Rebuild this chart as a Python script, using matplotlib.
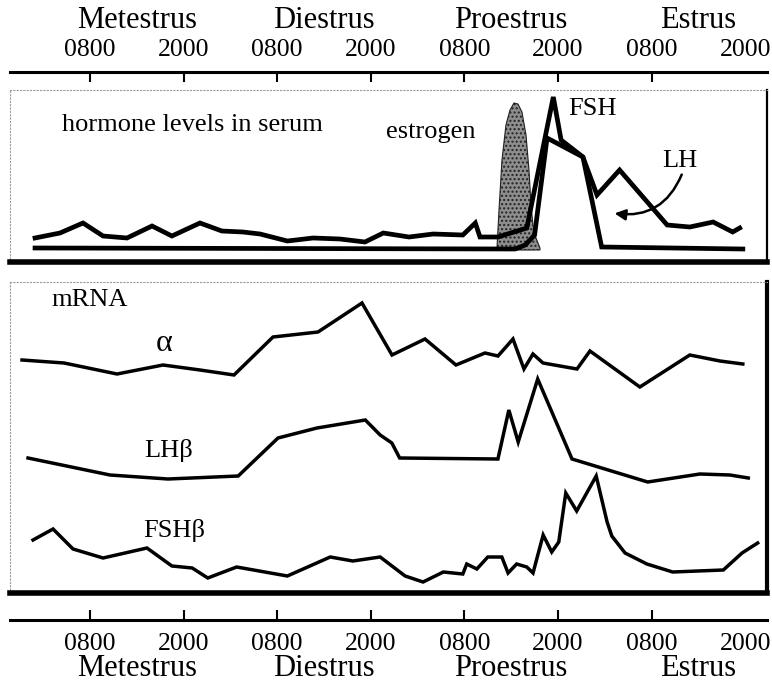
import matplotlib
matplotlib.use('Agg')
import matplotlib.pyplot as plt
from matplotlib.transforms import blended_transform_factory

plt.rcParams['font.family'] = ['Liberation Serif', 'DejaVu Serif']

# ---------------- data ----------------
phases = ['Metestrus', 'Diestrus', 'Proestrus', 'Estrus']
phase_centers = [14, 38, 62, 86]          # hours (mid-day of each phase)
clock_ticks = [8, 20, 32, 44, 56, 68, 80, 92]
clock_labels = ['0800', '2000', '0800', '2000', '0800', '2000', '0800', '2000']

# serum hormone levels (relative units), time in hours
fsh_t = [0.95, 4.15, 7.1, 9.67, 12.74, 15.95, 18.5, 22.1, 24.9, 27.6, 29.8, 33.3,
         36.6, 40.05, 43.25, 45.6, 48.9, 52.0, 55.8, 57.4, 58.0, 60.3, 64.0,
         67.4, 68.4, 71.2, 73.0, 75.9, 82.0, 84.9, 87.9, 90.4, 91.3]
fsh_v = [12, 17, 27, 14, 12, 24, 14, 27, 19, 18, 16, 9,
         12, 11, 8, 17, 13, 16, 15, 27, 13, 13, 22,
         153, 110, 93, 55, 80, 25, 23, 28, 18, 22]

lh_t = [0.95, 62.5, 63.8, 65.0, 66.6, 71.2, 73.6, 91.7]
lh_v = [2, 1, 5, 15, 112, 93, 3, 1]

estr_t = [60.18, 60.44, 60.82, 61.33, 61.85, 62.36, 62.87, 63.38, 63.9, 64.28,
          64.54, 64.79, 65.18, 65.69]
estr_v = [2, 40, 90, 125, 140, 147, 146, 138, 115, 80, 45, 25, 12, 2]

# pituitary mRNA levels (relative units)
alpha_t = [-0.72, 4.67, 11.46, 17.36, 22.1, 26.46, 31.46, 37.23, 42.87, 46.72,
           50.95, 54.92, 58.64, 60.31, 62.23, 63.64, 64.79, 66.08, 70.44, 72.1,
           78.5, 84.9, 88.77, 91.7]
alpha_v = [240, 237, 226, 235, 230, 225, 263, 268, 297, 245,
           261, 235, 247, 244, 261, 231, 246, 237, 231, 249,
           213, 245, 239, 236]

lhb_t = [0.05, 10.56, 18.0, 27.0, 32.1, 37.1, 43.3, 45.2, 46.7, 47.7, 60.3,
         61.7, 62.9, 65.4, 69.8, 79.5, 86.2, 90.05, 92.4]
lhb_v = [142, 125, 121, 124, 162, 172, 180, 165, 157, 142, 141,
         190, 158, 221, 141, 118, 126, 125, 122]

fshb_t = [0.69, 3.26, 5.82, 9.67, 15.3, 18.5, 21.1, 23.1, 26.8, 33.3, 38.8,
          41.7, 45.2, 48.4, 50.7, 53.3, 55.8, 56.3, 57.6, 59.0, 60.8, 61.6,
          62.7, 64.0, 64.8, 66.1, 67.2, 68.1, 69.0, 70.4, 72.9, 74.3, 74.9,
          76.6, 79.4, 82.7, 89.2, 91.6, 93.6]
fshb_v = [60, 71, 51, 42, 52, 34, 32, 22, 33, 24, 43,
          39, 43, 24, 18, 28, 26, 36, 31, 43, 43, 27,
          36, 33, 27, 65, 48, 58, 107, 89, 124, 78, 64,
          47, 36, 28, 30, 47, 57]

# ---------------- figure ----------------
W_PX, H_PX = 772, 690
fig = plt.figure(figsize=(W_PX / 100, H_PX / 100), dpi=100)
XL = (-2.26, 94.8)
L = 10 / W_PX
W = (767 - 10) / W_PX

def fy(py):
    return 1 - py / H_PX

def style_panel(ax, right_lw):
    ax.set_xlim(XL)
    ax.set_xticks([])
    ax.set_yticks([])
    for s in ('top', 'left'):
        ax.spines[s].set_color('#9a9a9a')
        ax.spines[s].set_linewidth(0.8)
        ax.spines[s].set_linestyle((0, (1, 2)))
    ax.spines['right'].set_linewidth(right_lw)
    ax.spines['bottom'].set_linewidth(4.0)

# ---- top panel: serum hormones
ax1 = fig.add_axes([L, fy(262), W, fy(90) - fy(262)])
style_panel(ax1, 1.6)
ax1.set_ylim(-12, 160)
ax1.fill_between(estr_t, estr_v, 0, facecolor='#8e8e8e', edgecolor='#222222',
                 hatch='....', linewidth=0.8, zorder=1)
ax1.plot(lh_t, lh_v, color='black', lw=3.4, solid_joinstyle='miter', zorder=3)
ax1.plot(fsh_t, fsh_v, color='black', lw=3.4, solid_joinstyle='miter', zorder=3)
tfs = 19
ax1.text(21.1, 125, 'hormone levels in serum', fontsize=tfs, ha='center', va='center')
ax1.text(51.7, 118, 'estrogen', fontsize=tfs, ha='center', va='center')
ax1.text(72.4, 141, 'FSH', fontsize=tfs, ha='center', va='center')
ax1.text(83.6, 89, 'LH', fontsize=tfs, ha='center', va='center')
ax1.annotate('', xy=(74.9, 37), xytext=(84.0, 78),
             arrowprops=dict(arrowstyle='-|>', color='black', lw=1.8,
                             mutation_scale=16,
                             connectionstyle='arc3,rad=-0.4'))

# ---- lower panel: mRNA
ax2 = fig.add_axes([L, fy(593), W, fy(282) - fy(593)])
style_panel(ax2, 3.0)
ax2.set_ylim(7, 318)
for t, v in ((alpha_t, alpha_v), (lhb_t, lhb_v), (fshb_t, fshb_v)):
    ax2.plot(t, v, color='black', lw=2.5, solid_joinstyle='miter')
ax2.text(8.0, 300, 'mRNA', fontsize=tfs, ha='center', va='center')
ax2.text(17.5, 257, 'α', fontsize=23, ha='center', va='center')
ax2.text(18.1, 150, 'LHβ', fontsize=19, ha='center', va='center')
ax2.text(18.8, 70, 'FSHβ', fontsize=19, ha='center', va='center')

# ---- time axes (top and bottom)
def time_axis(py, top):
    ax = fig.add_axes([L, fy(py), W, 0.0001])
    ax.set_xlim(XL)
    ax.set_ylim(0, 1)
    ax.set_yticks([])
    for s in ('left', 'right', 'top', 'bottom'):
        ax.spines[s].set_visible(False)
    side = 'top' if top else 'bottom'
    ax.spines[side].set_visible(True)
    ax.spines[side].set_linewidth(2.2)
    ax.xaxis.remove_overlapping_locs = False
    ax.set_xticks(clock_ticks)
    ax.set_xticklabels(clock_labels, fontsize=18.5)
    ax.set_xticks(clock_ticks[:-1], minor=True)
    ax.tick_params(axis='x', which='both', top=top, bottom=not top,
                   labeltop=top, labelbottom=not top)
    ax.tick_params(axis='x', which='major', length=0, pad=8 if top else 9)
    ax.tick_params(axis='x', which='minor', direction='in', length=7, width=1.5)
    return ax

axt = time_axis(72, True)
axb = time_axis(620, False)

tr = blended_transform_factory(axt.transData, fig.transFigure)
for c, name in zip(phase_centers, phases):
    axt.text(c, fy(21), name, transform=tr, fontsize=22, ha='center', va='center')
    axb.text(c, fy(669), name, transform=tr, fontsize=22, ha='center', va='center')

fig.savefig('out.png', dpi=100)
